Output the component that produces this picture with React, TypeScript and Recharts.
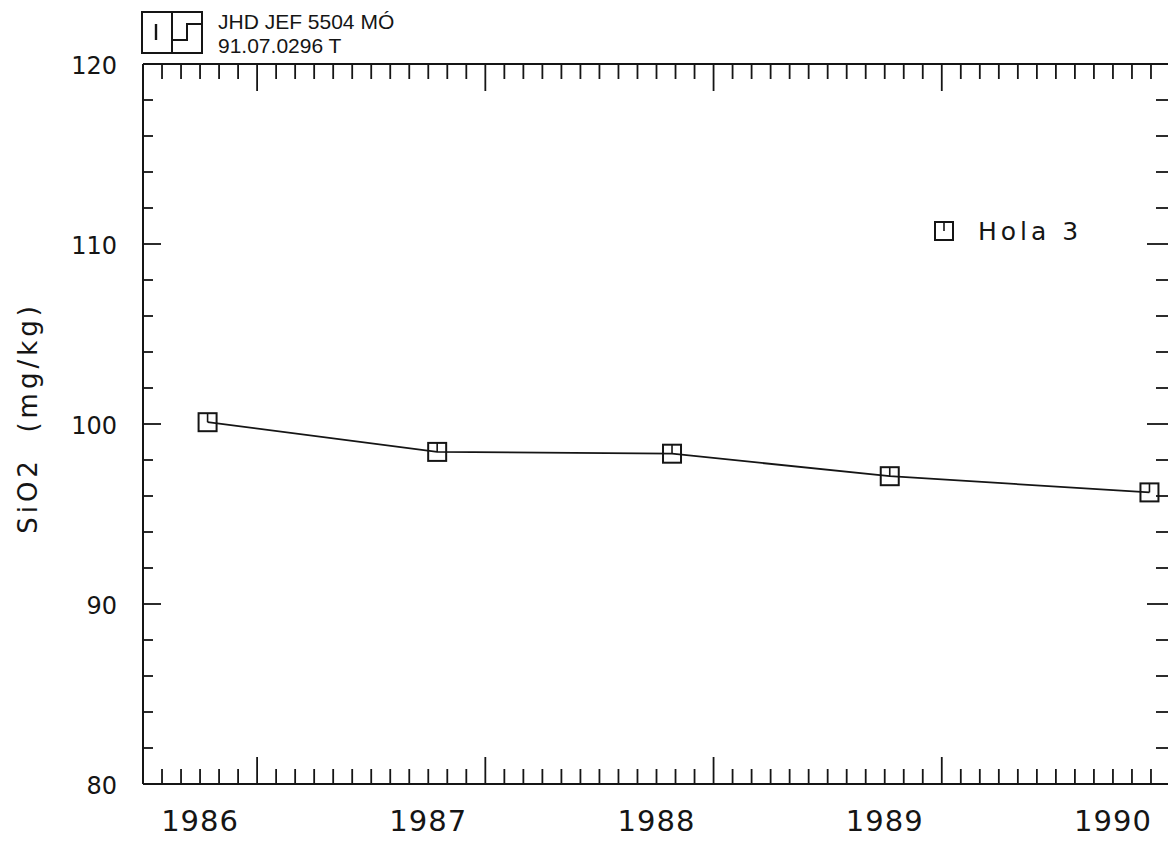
import React from 'react'
import { LineChart, Line, XAxis, YAxis } from 'recharts'

// sampling dates (decimal years) and SiO2 readings for Hola 3
const sampleDates = [1986.283, 1987.289, 1988.318, 1989.272, 1990.41]
const sio2Values = [100.1, 98.45, 98.35, 97.1, 96.2]

const yearLabels = ['1986', '1987', '1988', '1989', '1990']
const yLabelValues = [80, 90, 100, 110, 120]

const X_START = 1986
const X_END = 1990.5
const INK = '#151515'
const FONT = '"DejaVu Sans", sans-serif'

const data = sampleDates.map((d, i) => ({ date: d, sio2: sio2Values[i] }))

// month ticks along the time axis
const monthTicks = Array.from({ length: 55 }, (_, i) => X_START + i / 12)
// every 2 mg/kg on the value axis
const valueTicks = Array.from({ length: 21 }, (_, i) => 80 + i * 2)

const monthIndex = (v: number) => Math.round((v - X_START) * 12)

const BottomTick = (props: any) => {
  const { x, y, payload } = props
  const m = monthIndex(payload.value)
  const inner = m > 0 && m < 54
  const major = m % 12 === 6
  const label = m % 12 === 3 ? yearLabels[Math.floor(m / 12)] : null
  return (
    <g>
      {inner && <line x1={x} y1={y} x2={x} y2={y - (major ? 27 : 15)} stroke={INK} strokeWidth={1.8} />}
      {label && (
        <text x={x} y={y + 47} textAnchor="middle" fontFamily={FONT} fontSize={29} letterSpacing={1} fill={INK}>
          {label}
        </text>
      )}
    </g>
  )
}

const TopTick = (props: any) => {
  const { x, y, payload } = props
  const m = monthIndex(payload.value)
  if (m <= 0 || m >= 54) return <g />
  const major = m % 12 === 6
  return <line x1={x} y1={y} x2={x} y2={y + (major ? 27 : 15)} stroke={INK} strokeWidth={1.8} />
}

const LeftTick = (props: any) => {
  const { x, y, payload } = props
  const v = payload.value
  const major = v % 10 === 0
  const inner = v > 80 && v < 120
  return (
    <g>
      {inner && <line x1={x} y1={y} x2={x + (major ? 18 : 10)} y2={y} stroke={INK} strokeWidth={1.8} />}
      {yLabelValues.includes(v) && (
        <text x={x - 26} y={y + 10} textAnchor="end" fontFamily={FONT} fontSize={24} fill={INK}>
          {v}
        </text>
      )}
    </g>
  )
}

const RightTick = (props: any) => {
  const { x, y, payload } = props
  const v = payload.value
  if (v <= 80 || v >= 120) return <g />
  const major = v % 10 === 0
  return <line x1={x} y1={y} x2={x - (major ? 23 : 14)} y2={y} stroke={INK} strokeWidth={1.8} />
}

const SquareDot = (props: any) => {
  const { cx, cy, index } = props
  return (
    <g key={`pt-${index}`}>
      <rect x={cx - 9} y={cy - 9} width={18} height={18} fill="none" stroke={INK} strokeWidth={2} />
      <line x1={cx} y1={cy - 9} x2={cx} y2={cy} stroke={INK} strokeWidth={1.6} />
    </g>
  )
}

export default function App() {
  const axisLine = { stroke: INK, strokeWidth: 2 }
  return (
    <div style={{ position: 'absolute', left: 0, top: 0, width: 1168, height: 846, overflow: 'hidden', background: '#fff' }}>
      <LineChart width={1200} height={846} data={data} margin={{ top: 0, right: 0, bottom: 0, left: 0 }}>
        <XAxis
          xAxisId="bottom"
          dataKey="date"
          type="number"
          domain={[X_START, X_END]}
          ticks={monthTicks}
          interval={0}
          tickSize={0}
          tickMargin={0}
          tickLine={false}
          tick={BottomTick}
          height={62}
          axisLine={axisLine}
          allowDataOverflow
        />
        <XAxis
          xAxisId="top"
          orientation="top"
          dataKey="date"
          type="number"
          domain={[X_START, X_END]}
          ticks={monthTicks}
          interval={0}
          tickSize={0}
          tickMargin={0}
          tickLine={false}
          tick={TopTick}
          height={64}
          axisLine={axisLine}
          allowDataOverflow
        />
        <YAxis
          yAxisId="left"
          type="number"
          domain={[80, 120]}
          ticks={valueTicks}
          interval={0}
          tickSize={0}
          tickMargin={0}
          tickLine={false}
          tick={LeftTick}
          width={143}
          axisLine={axisLine}
          allowDataOverflow
        />
        <YAxis
          yAxisId="right"
          orientation="right"
          type="number"
          domain={[80, 120]}
          ticks={valueTicks}
          interval={0}
          tickSize={0}
          tickMargin={0}
          tickLine={false}
          tick={RightTick}
          width={30}
          axisLine={axisLine}
          allowDataOverflow
        />
        <Line
          xAxisId="bottom"
          yAxisId="left"
          type="linear"
          dataKey="sio2"
          stroke={INK}
          strokeWidth={1.8}
          dot={SquareDot}
          activeDot={false}
          isAnimationActive={false}
        />
      </LineChart>

      <svg width={1168} height={846} style={{ position: 'absolute', left: 0, top: 0, pointerEvents: 'none' }}>
        {/* stamp in the corner */}
        <rect x={142} y={12} width={60} height={41} fill="none" stroke={INK} strokeWidth={2} />
        <line x1={172} y1={12} x2={172} y2={53} stroke={INK} strokeWidth={2} />
        <line x1={156} y1={24} x2={156} y2={40} stroke={INK} strokeWidth={2.4} />
        <polyline points="202,24 187,24 187,40 173,40" fill="none" stroke={INK} strokeWidth={2} />
        <text x={218} y={29} fontFamily='"Liberation Sans", Arial, sans-serif' fontSize={21} fill={INK}>
          JHD JEF 5504 MÓ
        </text>
        <text x={218} y={53} fontFamily='"Liberation Sans", Arial, sans-serif' fontSize={21} fill={INK}>
          91.07.0296 T
        </text>

        {/* axis title */}
        <text
          x={37}
          y={418}
          transform="rotate(-90, 37, 418)"
          textAnchor="middle"
          fontFamily={FONT}
          fontSize={26}
          letterSpacing={4}
          fill={INK}
          style={{ whiteSpace: 'pre' }}
        >
          {'SiO2  (mg/kg)'}
        </text>

        {/* legend */}
        <rect x={935} y={222} width={18} height={18} fill="none" stroke={INK} strokeWidth={2} />
        <line x1={944} y1={222} x2={944} y2={231} stroke={INK} strokeWidth={1.6} />
        <text x={978} y={240} fontFamily={FONT} fontSize={25} letterSpacing={4} fill={INK}>
          Hola 3
        </text>
      </svg>
    </div>
  )
}
